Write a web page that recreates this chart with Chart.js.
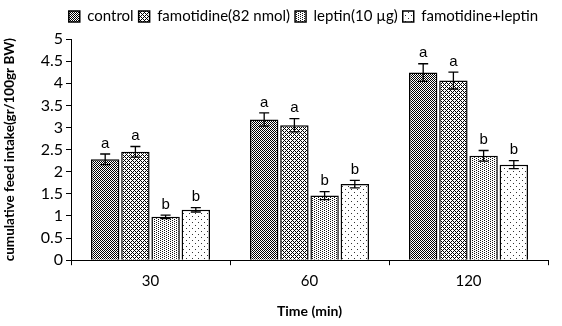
<!DOCTYPE html>
<html>
<head>
<meta charset="utf-8">
<script src="https://cdn.jsdelivr.net/npm/chart.js@4.4.0/dist/chart.umd.min.js"></script>
<style>
  html, body { margin: 0; padding: 0; background: #fff; }
  #wrap { width: 562px; height: 326px; }
</style>
</head>
<body>
<div id="wrap"><canvas id="bar-chart" width="562" height="326"></canvas></div>
<script>
// data
var times = ['30', '60', '120'];
var seriesNames = ['control', 'famotidine(82 nmol)', 'leptin(10 \u00b5g)', 'famotidine+leptin'];
var control = [2.28, 3.18, 4.24];
var famotidine = [2.45, 3.05, 4.06];
var leptin = [0.98, 1.46, 2.36];
var famoLeptin = [1.14, 1.72, 2.16];
var controlErr = [0.12, 0.15, 0.20];
var famotidineErr = [0.12, 0.15, 0.19];
var leptinErr = [0.04, 0.09, 0.12];
var famoLeptinErr = [0.05, 0.085, 0.09];
var controlLetters = ['a', 'a', 'a'];
var famotidineLetters = ['a', 'a', 'a'];
var leptinLetters = ['b', 'b', 'b'];
var famoLeptinLetters = ['b', 'b', 'b'];
var yTicks = [0, 0.5, 1, 1.5, 2, 2.5, 3, 3.5, 4, 4.5, 5];

function makePattern(kind) {
    var c = document.createElement('canvas');
    var ctx = c.getContext('2d');
    if (kind === 'checker') {
        c.width = 2; c.height = 2;
        ctx.fillStyle = '#fff'; ctx.fillRect(0, 0, 2, 2);
        ctx.fillStyle = '#000';
        ctx.fillRect(0, 0, 1, 1); ctx.fillRect(1, 1, 1, 1);
    } else if (kind === 'cross') {
        c.width = 4; c.height = 4;
        ctx.fillStyle = '#fff'; ctx.fillRect(0, 0, 4, 4);
        ctx.fillStyle = '#000';
        ctx.fillRect(0, 0, 1, 1); ctx.fillRect(2, 2, 1, 1);
        ctx.fillRect(1, 1, 1, 1); ctx.fillRect(3, 3, 1, 1);
        ctx.fillRect(3, 1, 1, 1); ctx.fillRect(1, 3, 1, 1);
    } else if (kind === 'fine') {
        c.width = 4; c.height = 2;
        ctx.fillStyle = '#fff'; ctx.fillRect(0, 0, 4, 2);
        ctx.fillStyle = '#111';
        ctx.fillRect(0, 0, 1, 1); ctx.fillRect(2, 1, 1, 1);
    } else {
        c.width = 6; c.height = 6;
        ctx.fillStyle = '#fff'; ctx.fillRect(0, 0, 6, 6);
        ctx.fillStyle = '#333';
        ctx.fillRect(0, 0, 1, 1); ctx.fillRect(3, 3, 1, 1);
    }
    return document.createElement('canvas').getContext('2d').createPattern(c, 'repeat');
}

var errors = [controlErr, famotidineErr, leptinErr, famoLeptinErr];
var letters = [controlLetters, famotidineLetters, leptinLetters, famoLeptinLetters];

// error bars + letters drawn from the scales
var errorBarPlugin = {
    id: 'errorBars',
    afterDatasetsDraw: function (chart) {
        var ctx = chart.ctx;
        var yScale = chart.scales.y;
        ctx.save();
        ctx.strokeStyle = '#000';
        ctx.lineWidth = 1.3;
        chart.data.datasets.forEach(function (ds, i) {
            var meta = chart.getDatasetMeta(i);
            meta.data.forEach(function (bar, j) {
                var v = ds.data[j];
                var e = errors[i][j];
                var top = yScale.getPixelForValue(v + e);
                var bot = yScale.getPixelForValue(v - e);
                var x = bar.x;
                ctx.beginPath();
                ctx.moveTo(x, top); ctx.lineTo(x, bot);
                ctx.moveTo(x - 5, top); ctx.lineTo(x + 5, top);
                ctx.moveTo(x - 5, bot); ctx.lineTo(x + 5, bot);
                ctx.stroke();
                ctx.fillStyle = '#000';
                ctx.font = '15px "Liberation Sans", Arial, sans-serif';
                ctx.textAlign = 'center';
                ctx.textBaseline = 'bottom';
                ctx.fillText(letters[i][j], x, top - 3);
            });
        });
        ctx.restore();
    }
};

// fixed legend height, and legend centred over the plot area instead of the canvas
var legendFit = {
    id: 'legendFit',
    beforeInit: function (chart) {
        var fit = chart.legend.fit;
        chart.legend.fit = function () {
            fit.bind(chart.legend)();
            this.height = 35;
        };
    },
    afterLayout: function (chart) {
        var shift = (chart.chartArea.left + chart.chartArea.right) / 2 - chart.width / 2;
        chart.legend.left += shift;
        chart.legend.right += shift;
    }
};

var patterns = [makePattern('checker'), makePattern('cross'), makePattern('fine'), makePattern('sparse')];
var values = [control, famotidine, leptin, famoLeptin];

new Chart(document.getElementById('bar-chart'), {
    type: 'bar',
    data: {
        labels: times,
        datasets: seriesNames.map(function (name, i) {
            return {
                label: name,
                data: values[i],
                backgroundColor: patterns[i],
                borderColor: '#000',
                borderWidth: 1.5,
                categoryPercentage: 0.76,
                barPercentage: 0.94
            };
        })
    },
    options: {
        responsive: false,
        animation: false,
        layout: { padding: { top: 4, right: 14, left: 2, bottom: 2 } },
        plugins: {
            legend: {
                position: 'top',
                labels: {
                    boxWidth: 11,
                    boxHeight: 11,
                    padding: 5,
                    color: '#000',
                    font: { family: 'Lato, "Open Sans", sans-serif', size: 15 }
                }
            },
            tooltip: { enabled: false }
        },
        scales: {
            x: {
                grid: { display: true, drawOnChartArea: false, offset: true, color: '#000', tickLength: 5 },
                border: { color: '#000', width: 1 },
                ticks: { color: '#000', font: { family: 'Lato, "Open Sans", sans-serif', size: 15 }, padding: 7 },
                title: { display: true, text: 'Time (min)', color: '#000', font: { family: 'Lato, "Open Sans", sans-serif', size: 14, weight: 'bold' }, padding: { top: 6 } }
            },
            y: {
                min: 0,
                max: 5,
                afterBuildTicks: function (axis) {
                    axis.ticks = yTicks.map(function (v) { return { value: v }; });
                },
                afterFit: function (axis) { axis.width = 69; },
                grid: { display: true, drawOnChartArea: false, color: '#000', tickLength: 5 },
                border: { color: '#000', width: 1 },
                ticks: {
                    color: '#000',
                    autoSkip: false,
                    font: { family: 'Lato, "Open Sans", sans-serif', size: 16 },
                    padding: 3,
                    callback: function (v) { return String(v); }
                },
                title: { display: true, text: 'cumulative feed intake(gr/100gr BW)', color: '#000', font: { family: 'Lato, "Open Sans", sans-serif', size: 13.5, weight: 'bold' }, padding: 0 }
            }
        }
    },
    plugins: [errorBarPlugin, legendFit]
});
</script>
</body>
</html>
